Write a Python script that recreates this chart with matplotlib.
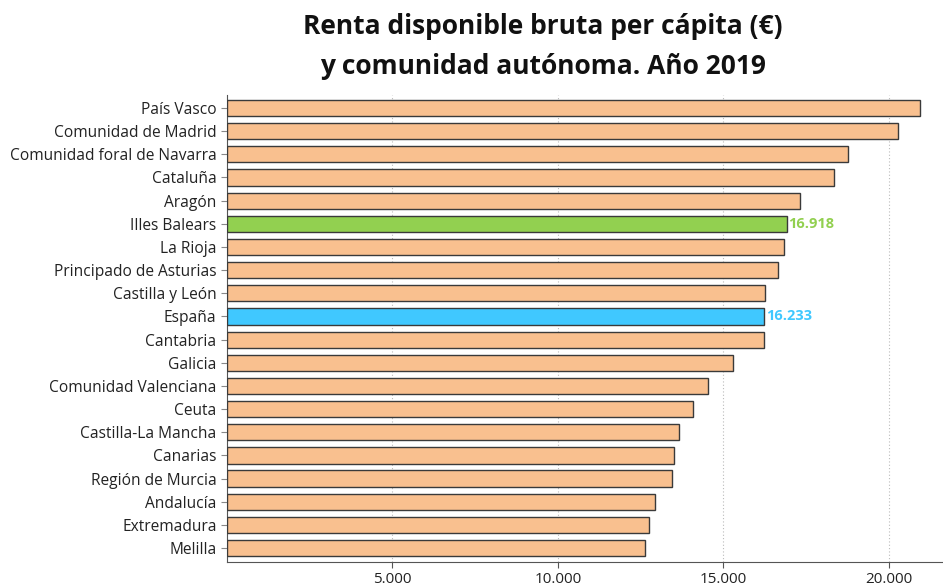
import matplotlib
matplotlib.use("Agg")
import matplotlib.pyplot as plt
from matplotlib.ticker import FuncFormatter

plt.rcParams["font.family"] = ["Open Sans", "DejaVu Sans"]

regiones = ["País Vasco", "Comunidad de Madrid", "Comunidad foral de Navarra", "Cataluña",
            "Aragón", "Illes Balears", "La Rioja", "Principado de Asturias", "Castilla y León",
            "España", "Cantabria", "Galicia", "Comunidad Valenciana", "Ceuta",
            "Castilla-La Mancha", "Canarias", "Región de Murcia", "Andalucía",
            "Extremadura", "Melilla"]
renta = [20950, 20275, 18773, 18360, 17332, 16918, 16828, 16647, 16254, 16233,
         16223, 15297, 14551, 14077, 13653, 13502, 13442, 12928, 12746, 12625]
destacados = {"Illes Balears": "#92D050", "España": "#40C8FF"}
color_base = "#F9C08F"
xticks = [5000, 10000, 15000, 20000]

fig = plt.figure(figsize=(9.43, 5.86), dpi=100)
ax = fig.add_axes([227 / 943, 1 - 562 / 586, (943 - 227) / 943, (562 - 95) / 586])

colores = [destacados.get(r, color_base) for r in regiones]
pos = list(range(len(regiones)))
ax.barh(pos, renta, height=0.7, color=colores, edgecolor="#3a3a3a", linewidth=1, zorder=3)

# etiquetas solo para las barras destacadas
for i, (r, v) in enumerate(zip(regiones, renta)):
    if r in destacados:
        ax.text(v + 50, i, f"{v:,}".replace(",", "."), va="center", ha="left",
                color=destacados[r], fontsize=10.5, fontweight="bold", zorder=4)

ax.set_yticks(pos)
ax.set_yticklabels(regiones, fontsize=11.2, color="#222222")
ax.set_ylim(len(regiones) - 0.4, -0.56)
ax.set_xlim(0, 21640)
ax.set_xticks(xticks)
ax.xaxis.set_major_formatter(FuncFormatter(lambda x, p: f"{int(x):,}".replace(",", ".")))
ax.tick_params(axis="x", labelsize=11, colors="#222222", length=4, color="#555555")
ax.tick_params(axis="y", length=4, color="#888888")
ax.grid(axis="x", linestyle=(0, (1, 2)), color="#bbbbbb", linewidth=0.8, zorder=0)
for s in ["top", "right"]:
    ax.spines[s].set_visible(False)
for s in ["left", "bottom"]:
    ax.spines[s].set_color("#555555")

fig.text(0.576, 1 - 27 / 586, "Renta disponible bruta per cápita (€)", ha="center", va="center",
         fontsize=19, fontweight="bold", color="#111111")
fig.text(0.576, 1 - 67 / 586, "y comunidad autónoma. Año 2019", ha="center", va="center",
         fontsize=19, fontweight="bold", color="#111111")

fig.savefig("out.png", dpi=100)
